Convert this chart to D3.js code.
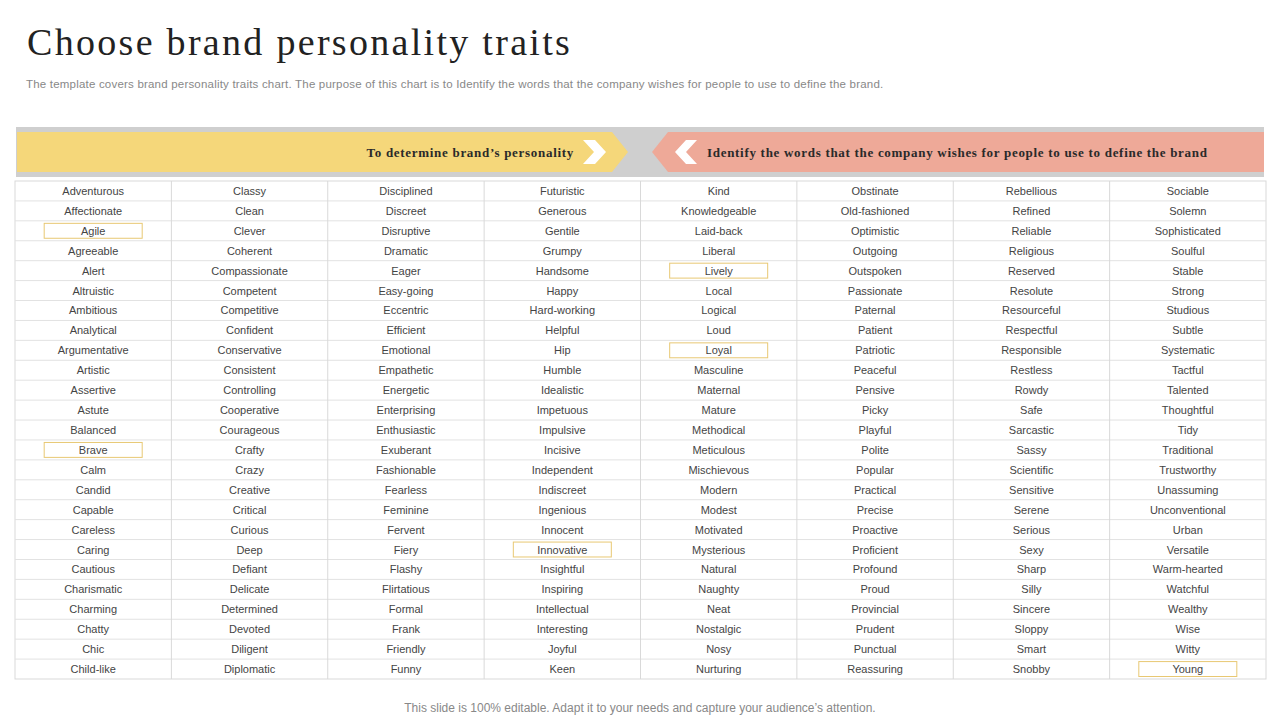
<!DOCTYPE html>
<html><head><meta charset="utf-8">
<script src="https://cdn.jsdelivr.net/npm/d3@7"></script>
<style>body{margin:0;background:#fff}svg{display:block}</style>
</head><body><svg id="c" width="1280" height="720"></svg>
<script>
const col1=["Adventurous","Affectionate","Agile","Agreeable","Alert","Altruistic","Ambitious","Analytical","Argumentative","Artistic","Assertive","Astute","Balanced","Brave","Calm","Candid","Capable","Careless","Caring","Cautious","Charismatic","Charming","Chatty","Chic","Child-like"];
const col2=["Classy","Clean","Clever","Coherent","Compassionate","Competent","Competitive","Confident","Conservative","Consistent","Controlling","Cooperative","Courageous","Crafty","Crazy","Creative","Critical","Curious","Deep","Defiant","Delicate","Determined","Devoted","Diligent","Diplomatic"];
const col3=["Disciplined","Discreet","Disruptive","Dramatic","Eager","Easy-going","Eccentric","Efficient","Emotional","Empathetic","Energetic","Enterprising","Enthusiastic","Exuberant","Fashionable","Fearless","Feminine","Fervent","Fiery","Flashy","Flirtatious","Formal","Frank","Friendly","Funny"];
const col4=["Futuristic","Generous","Gentile","Grumpy","Handsome","Happy","Hard-working","Helpful","Hip","Humble","Idealistic","Impetuous","Impulsive","Incisive","Independent","Indiscreet","Ingenious","Innocent","Innovative","Insightful","Inspiring","Intellectual","Interesting","Joyful","Keen"];
const col5=["Kind","Knowledgeable","Laid-back","Liberal","Lively","Local","Logical","Loud","Loyal","Masculine","Maternal","Mature","Methodical","Meticulous","Mischievous","Modern","Modest","Motivated","Mysterious","Natural","Naughty","Neat","Nostalgic","Nosy","Nurturing"];
const col6=["Obstinate","Old-fashioned","Optimistic","Outgoing","Outspoken","Passionate","Paternal","Patient","Patriotic","Peaceful","Pensive","Picky","Playful","Polite","Popular","Practical","Precise","Proactive","Proficient","Profound","Proud","Provincial","Prudent","Punctual","Reassuring"];
const col7=["Rebellious","Refined","Reliable","Religious","Reserved","Resolute","Resourceful","Respectful","Responsible","Restless","Rowdy","Safe","Sarcastic","Sassy","Scientific","Sensitive","Serene","Serious","Sexy","Sharp","Silly","Sincere","Sloppy","Smart","Snobby"];
const col8=["Sociable","Solemn","Sophisticated","Soulful","Stable","Strong","Studious","Subtle","Systematic","Tactful","Talented","Thoughtful","Tidy","Traditional","Trustworthy","Unassuming","Unconventional","Urban","Versatile","Warm-hearted","Watchful","Wealthy","Wise","Witty","Young"];
const columns=[col1,col2,col3,col4,col5,col6,col7,col8];
const highlighted=["Agile","Brave","Lively","Loyal","Innovative","Young"];
const title="Choose brand personality traits";
const subtitle="The template covers brand personality traits chart. The purpose of this chart is to Identify the words that the company wishes for people to use to define the brand.";
const leftLabel="To determine brand\u2019s personality";
const rightLabel="Identify the words that the company wishes for people to use to define the brand";
const footer="This slide is 100% editable. Adapt it to your needs and capture your audience\u2019s attention.";

const svg=d3.select("#c");
svg.append("text").attr("x",27).attr("y",55).style("font-family","'Liberation Serif',serif").attr("font-size",38).attr("letter-spacing",2.3).attr("fill","#222").text(title);
svg.append("text").attr("x",26).attr("y",88).attr("font-family","'Liberation Sans',Arial,sans-serif").attr("font-size",11.5).attr("letter-spacing",0.2).attr("fill","#888").text(subtitle);

svg.append("rect").attr("x",16).attr("y",127).attr("width",1248).attr("height",50).attr("fill","#cfcfcf");
svg.append("path").attr("d","M17,132 L612,132 L628,152 L612,172 L17,172 Z").attr("fill","#f5d77a");
svg.append("path").attr("d","M668,132 L1264,132 L1264,172 L668,172 L652,152 Z").attr("fill","#eea998");
svg.append("path").attr("d","M583,140 L595,140 L606,152 L595,164 L583,164 L594,152 Z").attr("fill","#fff");
svg.append("path").attr("d","M697,140 L686,140 L675,152 L686,164 L697,164 L686,152 Z").attr("fill","#fff");
svg.append("text").attr("x",574).attr("y",157).attr("text-anchor","end").attr("font-family","'Liberation Serif',serif").attr("font-weight","bold").attr("font-size",13).attr("letter-spacing",0.7).attr("fill","#2a2a2a").text(leftLabel);
svg.append("text").attr("x",707).attr("y",157).attr("font-family","'Liberation Serif',serif").attr("font-weight","bold").attr("font-size",13).attr("letter-spacing",0.7).attr("fill","#2a2a2a").text(rightLabel);

const x=d3.scaleBand().domain(d3.range(columns.length)).range([15,1266]);
const nRows=col1.length;
const y=d3.scaleBand().domain(d3.range(nRows)).range([181,679]);
const g=svg.append("g");
g.append("rect").attr("x",15).attr("y",181).attr("width",1251).attr("height",498).attr("fill","none").attr("stroke","#d9d9d9");
g.selectAll("line.h").data(d3.range(1,nRows)).join("line").attr("x1",15).attr("x2",1266).attr("y1",d=>y(d)).attr("y2",d=>y(d)).attr("stroke","#e2e2e2");
g.selectAll("line.v").data(d3.range(1,columns.length)).join("line").attr("y1",181).attr("y2",679).attr("x1",d=>x(d)).attr("x2",d=>x(d)).attr("stroke","#d9d9d9");
const cells=columns.flatMap((c,ci)=>c.map((w,ri)=>({w,ci,ri})));
g.selectAll("rect.hl").data(cells.filter(d=>highlighted.includes(d.w))).join("rect")
 .attr("x",d=>x(d.ci)+x.bandwidth()/2-49).attr("y",d=>y(d.ri)+2.5).attr("width",98).attr("height",y.bandwidth()-5)
 .attr("fill","#fff").attr("stroke","#e8c873");
g.selectAll("text.cell").data(cells).join("text")
 .attr("x",d=>x(d.ci)+x.bandwidth()/2).attr("y",d=>y(d.ri)+y.bandwidth()/2+4)
 .attr("text-anchor","middle").attr("font-family","'Liberation Sans',Arial,sans-serif").attr("font-size",11).attr("fill","#444").text(d=>d.w);

svg.append("text").attr("x",640).attr("y",712).attr("text-anchor","middle").attr("font-family","'Liberation Sans',Arial,sans-serif").attr("font-size",12).attr("fill","#888").text(footer);
</script></body></html>
